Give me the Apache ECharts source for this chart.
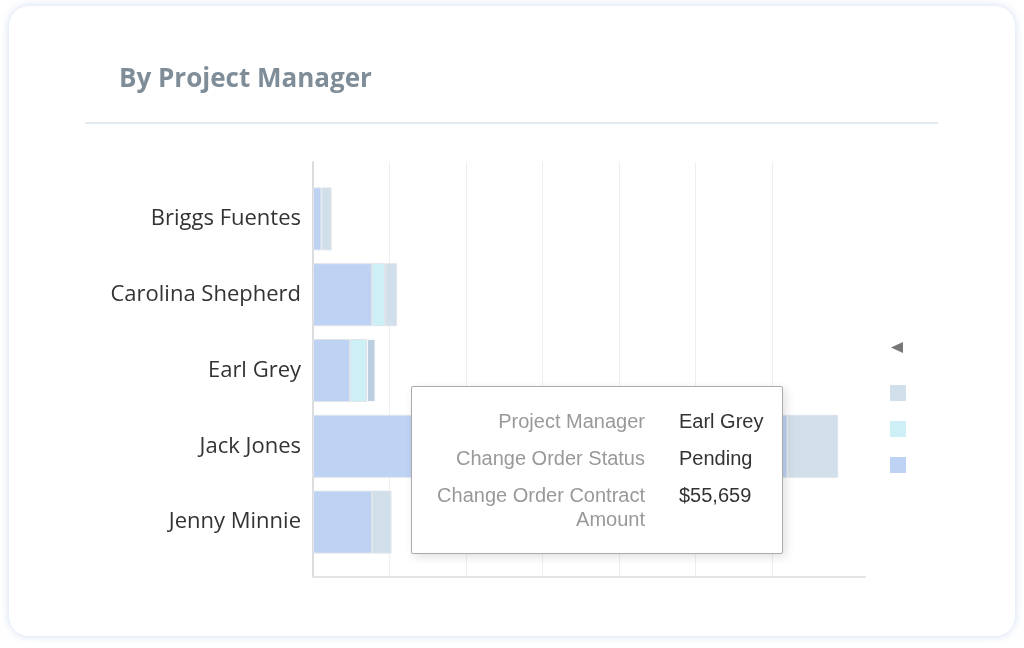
<!DOCTYPE html>
<html>
<head>
<meta charset="utf-8">
<script src="https://cdn.jsdelivr.net/npm/echarts@6/dist/echarts.min.js"></script>
<style>
  html, body { margin: 0; padding: 0; background: #fff; }
  .card {
    position: absolute; left: 9px; top: 6px; width: 1006px; height: 630px;
    background: #fff; border-radius: 20px;
    box-shadow: 0 0 8px rgba(170, 195, 230, 0.55);
  }
  #main { position: absolute; left: 0; top: 0; width: 1024px; height: 648px; }
</style>
</head>
<body>
<div class="card"></div>
<div id="main"></div>
<script>
// project managers (top to bottom)
const managers = ['Briggs Fuentes', 'Carolina Shepherd', 'Earl Grey', 'Jack Jones', 'Jenny Minnie'];

// change order contract amount by status
const statusNames = ['Approved', 'Draft', 'Pending'];
const approved = [55000, 385000, 241000, 3095000, 385000];
const draft = [null, 85000, 111000, null, null];
const pending = [66000, 78000, 55659, 330000, 127000];

const statusColors = ['#bed3f3', '#ccf0f5', '#d0dfe9'];
const legendOrder = ['Pending', 'Draft', 'Approved'];

const fmtMoney = v => '$' + Math.round(v).toLocaleString('en-US');

var myChart = echarts.init(document.getElementById('main'));

// 单个堆叠柱
const makeSeries = (name, data, color, hoverColor) => ({
  name,
  type: 'bar',
  stack: 'total',
  xAxisIndex: 2,
  yAxisIndex: 2,
  barWidth: 63,
  data,
  itemStyle: { color, borderColor: '#dfe4ea', borderWidth: 1 },
  emphasis: { focus: 'none', itemStyle: { color: hoverColor || color } }
});

const option = {
  animation: false,
  graphic: [
    {
      type: 'text', left: 119, top: 67,
      style: { text: 'By Project Manager', fill: '#7f8d99', font: 'bold 26px "Open Sans"' }
    },
    {
      type: 'rect', shape: { x: 85, y: 122, width: 853, height: 2 },
      style: { fill: '#e3eaf2' }
    },
    {
      type: 'polygon', shape: { points: [[903, 342], [903, 353], [891, 347.5]] },
      style: { fill: '#777' }
    }
  ],
  legend: {
    orient: 'vertical',
    left: 885,
    top: 380,
    itemWidth: 16,
    itemHeight: 16,
    itemGap: 20,
    icon: 'rect',
    data: legendOrder,
    formatter: () => '',
    itemStyle: { borderWidth: 0 },
    selectedMode: false
  },
  tooltip: {
    trigger: 'item',
    alwaysShowContent: true,
    transitionDuration: 0,
    showDelay: 0,
    position: [411, 386],
    backgroundColor: '#fff',
    borderColor: '#aaa',
    borderWidth: 1,
    borderRadius: 2,
    padding: [22, 20, 0, 21],
    extraCssText: 'box-shadow: 3px 3px 10px rgba(0,0,0,0.12); width:372px; height:168px; box-sizing:border-box; white-space:normal;',
    formatter: p => {
      const lab = 'text-align:right;vertical-align:top;color:#999;width:212px;min-width:212px;max-width:212px;white-space:normal;padding:0 34px 13px 0;';
      const val = 'vertical-align:top;color:#333;white-space:nowrap;padding:0 0 13px 0;';
      const rows = [
        ['Project Manager', p.name],
        ['Change Order Status', p.seriesName],
        ['Change Order Contract Amount', fmtMoney(p.value)]
      ];
      return '<table style="border-collapse:collapse;table-layout:fixed;font:20px/24px \'Liberation Sans\',Arial,sans-serif;">' +
        '<colgroup><col style="width:246px"><col></colgroup>' +
        rows.map(r => '<tr><td style="' + lab + '">' + r[0] + '</td><td style="' + val + '">' + r[1] + '</td></tr>').join('') +
        '</table>';
    }
  },
  grid: [
    { left: 313, top: 162, width: 459, height: 415 },
    { left: 313, top: 162, width: 552, height: 415 },
    { left: 313, top: 181, width: 552, height: 379 }
  ],
  xAxis: [
    {
      // split lines only
      type: 'value', gridIndex: 0, min: 0, max: 3000000, interval: 500000,
      axisLine: { show: false }, axisTick: { show: false }, axisLabel: { show: false },
      splitLine: { show: true, lineStyle: { color: '#efefef', width: 1 } }
    },
    {
      type: 'value', gridIndex: 1, min: 0, max: 3600000,
      axisLine: { show: true, lineStyle: { color: '#e3e3e3', width: 2 } },
      axisTick: { show: false }, axisLabel: { show: false }, splitLine: { show: false }
    },
    {
      type: 'value', gridIndex: 2, min: 0, max: 3600000, interval: 500000,
      show: false, splitLine: { show: false }
    }
  ],
  yAxis: [
    {
      type: 'value', gridIndex: 0, show: false, splitLine: { show: false }
    },
    {
      type: 'value', gridIndex: 1,
      axisLine: { show: true, lineStyle: { color: '#dcdcdc', width: 2 } },
      axisTick: { show: false }, axisLabel: { show: false }, splitLine: { show: false }
    },
    {
      type: 'category', gridIndex: 2, inverse: true,
      data: managers,
      axisLine: { show: false }, axisTick: { show: false },
      axisLabel: { margin: 12, color: '#333', fontSize: 22, fontFamily: 'Open Sans' }
    }
  ],
  series: [
    makeSeries(statusNames[0], approved, statusColors[0]),
    makeSeries(statusNames[1], draft, statusColors[1]),
    makeSeries(statusNames[2], pending, statusColors[2], '#bccfe1')
  ]
};

myChart.setOption(option);
myChart.dispatchAction({ type: 'highlight', seriesIndex: 2, dataIndex: 2 });
myChart.dispatchAction({ type: 'showTip', seriesIndex: 2, dataIndex: 2 });
</script>
</body>
</html>
